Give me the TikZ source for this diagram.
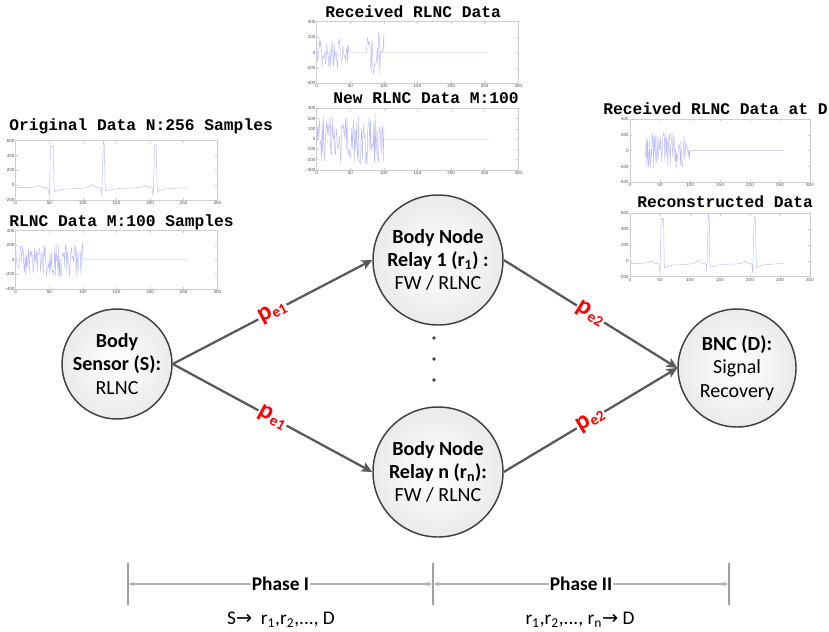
\documentclass[tikz,border=0pt]{standalone}
\usepackage{fontspec}
\setmainfont{Carlito}
\newfontfamily\monobold{Liberation Mono}
\newfontfamily\tickfont{Liberation Sans}
\newfontfamily\symfont{DejaVu Sans}
\usetikzlibrary{arrows.meta}

\definecolor{nodeborder}{HTML}{404040}
\definecolor{arrowgray}{HTML}{595959}
\definecolor{axisgray}{HTML}{CFCFCF}
\definecolor{datablue}{HTML}{BCBCF8}
\definecolor{ticktext}{HTML}{505050}
\definecolor{phasegray}{HTML}{A0A0A0}

\tikzset{
  bnode/.style={circle, draw=nodeborder, line width=1.1pt, inner color=white, outer color=black!8,
    align=center, inner sep=0pt, font=\fontsize{15}{17.5}\selectfont},
  flow/.style={draw=arrowgray, line width=1.7pt, -{Stealth[length=8pt,width=7.5pt,inset=2pt]}},
  plabel/.style={midway, sloped, fill=white, inner sep=1pt, text=red,
    font=\bfseries\fontsize{19}{19}\selectfont},
  ptitle/.style={anchor=base west, inner sep=0pt, font=\monobold\bfseries\fontsize{12.2}{12.2}\selectfont},
  axisline/.style={draw=axisgray, line width=0.4pt},
  ticklbl/.style={inner sep=0.3pt, text=ticktext, font=\tickfont\fontsize{3.4}{3.4}\selectfont},
  dataline/.style={draw=datablue, line width=0.35pt, line join=round},
  plotarea/.code n args={6}{%
    \pgfmathsetmacro{\sxx}{((#2)-(#1))/300}%
    \pgfmathsetmacro{\syy}{-((#4)-(#3))/((#6)-(#5))}%
    \tikzset{shift={(#1,#4)}, xscale=\sxx, yscale=\syy, shift={(0,{-(#5)})}}%
  },
  phasebar/.style={draw=phasegray, line width=1.3pt},
  phaseline/.style={draw=phasegray!80, line width=1.1pt, {Stealth[length=4pt,width=3.5pt]}-{Stealth[length=4pt,width=3.5pt]}},
  phasetext/.style={fill=white, inner sep=0.5pt, font=\bfseries\fontsize{14.5}{14.5}\selectfont},
  phasesub/.style={inner sep=0pt, font=\fontsize{14.5}{14.5}\selectfont},
}

% ECG-like trace (data coordinates)
\newcommand{\ecgdraw}{%
  \draw[dataline] (0,-30) -- (5,-35) -- (10,-30) -- (15,-35) -- (20,-30) -- (25,-28) -- (30,-25)
    -- (34,0) -- (37,-15) -- (40,-28) -- (45,-32) -- (48,-40) -- (50,-150) -- (52,540) -- (54,520)
    -- (56,535) -- (57,-20) -- (58,-90) -- (62,-75) -- (66,-65) -- (70,-55) -- (80,-50) -- (90,-45)
    -- (100,-40) -- (105,-35) -- (110,-20) -- (113,10) -- (116,-10) -- (120,-30) -- (125,-35)
    -- (127,-45) -- (128,-130) -- (130.5,600) -- (132,540) -- (133,-20) -- (134,-80) -- (140,-65)
    -- (145,-55) -- (155,-45) -- (165,-40) -- (175,-40) -- (182,-35) -- (188,-25) -- (191,0)
    -- (194,-20) -- (200,-35) -- (203,-40) -- (204.5,-150) -- (207,560) -- (209,540) -- (210.5,-20)
    -- (211.5,-90) -- (215,-70) -- (220,-55) -- (230,-45) -- (240,-40) -- (250,-35) -- (256,-35);%
}

% axes of a MATLAB-style plot: #1 L, #2 R, #3 T, #4 B, #5 ymin, #6 ymax, #7 y tick list
\newcommand{\plotaxes}[7]{%
  \draw[axisline] (#1,#3) rectangle (#2,#4);
  \foreach \xv in {0,50,...,300}{%
    \pgfmathsetmacro{\xp}{#1+\xv/300*(#2-#1)}%
    \draw[axisline] (\xp,#4) -- ++(0,-2.2) (\xp,#3) -- ++(0,2.2);
    \node[ticklbl,anchor=north] at (\xp,#4+0.6) {\xv};
  }
  \foreach \yv in {#7}{%
    \pgfmathsetmacro{\yp}{#4-(\yv-(#5))/((#6)-(#5))*(#4-#3)}%
    \draw[axisline] (#1,\yp) -- ++(2.2,0) (#2,\yp) -- ++(-2.2,0);
    \node[ticklbl,anchor=east] at (#1-0.6,\yp) {\yv};
  }
}

\begin{document}
\begin{tikzpicture}[x=0.75pt, y=-0.75pt]
\useasboundingbox (0,0) rectangle (829,632);

% ---------- plots ----------
% 1 Original data
\node[ptitle] (t1) at (9,130) {Original Data N:256 Samples};
\plotaxes{15.7}{217.3}{140.7}{200}{-200}{600}{600,400,200,0,-200}
\begin{scope}[plotarea={15.7}{217.3}{140.7}{200}{-200}{600}]
  \ecgdraw
\end{scope}

% 2 RLNC data
\node[ptitle] (t2) at (9,226) {RLNC Data M:100 Samples};
\plotaxes{15.7}{217.3}{230.7}{289}{-400}{400}{400,200,0,-200,-400}
\pgfmathsetseed{11}
\begin{scope}[plotarea={15.7}{217.3}{230.7}{289}{-400}{400}]
  \draw[dataline] (0,210) \foreach \i in {1,...,99}{ -- (\i,{240*rand}) } -- (100,230) -- (100,0) -- (256,0);
\end{scope}

% 3 Received RLNC data
\node[ptitle] (t3) at (325,17) {Received RLNC Data};
\plotaxes{316.7}{518.3}{21.7}{83.3}{-400}{400}{400,200,0,-200,-400}
\pgfmathsetseed{23}
\begin{scope}[plotarea={316.7}{518.3}{21.7}{83.3}{-400}{400}]
  \draw[dataline] (0,200) \foreach \i in {1,...,47}{ -- (\i,{210*rand}) } -- (48,0) -- (74,0)
    \foreach \i in {75,...,99}{ -- (\i,{290*rand}) } -- (100,240) -- (100,0) -- (256,0);
\end{scope}

% 4 New RLNC data
\node[ptitle] (t4) at (333,103) {New RLNC Data M:100};
\plotaxes{316.7}{518.3}{108.3}{170}{-300}{300}{300,200,100,0,-100,-200,-300}
\pgfmathsetseed{37}
\begin{scope}[plotarea={316.7}{518.3}{108.3}{170}{-300}{300}]
  \draw[dataline] (0,-60) \foreach \i in {1,...,99}{ -- (\i,{250*rand}) } -- (100,100) -- (100,0) -- (256,0);
\end{scope}

% 5 Received at D
\node[ptitle] (t5) at (603,114) {Received RLNC Data at D};
\plotaxes{630}{810}{119}{182.3}{-400}{400}{400,200,0,-200,-400}
\pgfmathsetseed{53}
\begin{scope}[plotarea={630}{810}{119}{182.3}{-400}{400}]
  \draw[dataline] (25,-90) \foreach \i in {26,...,99}{ -- (\i,{230*rand}) } -- (100,0) -- (256,0);
\end{scope}

% 6 Reconstructed
\node[ptitle] (t6) at (637,207) {Reconstructed Data};
\plotaxes{630}{810}{213.3}{276.7}{-200}{600}{600,400,200,0,-200}
\begin{scope}[plotarea={630}{810}{213.3}{276.7}{-200}{600}]
  \ecgdraw
\end{scope}

% ---------- network ----------
\node[bnode, minimum size=82.5pt] (S) at (117,364) {\textbf{Body}\\\textbf{Sensor (S):}\\RLNC};
\node[bnode, minimum size=97.5pt] (R1) at (438,260) {\textbf{Body Node}\\\textbf{Relay 1 (r\textsubscript{1}) :}\\FW / RLNC};
\node[bnode, minimum size=97.5pt] (Rn) at (438,472) {\textbf{Body Node}\\\textbf{Relay n (r\textsubscript{n}):}\\FW / RLNC};
\node[bnode, minimum size=88.5pt] (D) at (737,368) {\textbf{BNC (D):}\\Signal\\Recovery};

\draw[flow] (S.east) -- node[plabel]{p\raisebox{-2pt}{\fontsize{11.5}{11.5}\selectfont e1}} (R1.west);
\draw[flow] (S.east) -- node[plabel]{p\raisebox{-2pt}{\fontsize{11.5}{11.5}\selectfont e1}} (Rn.west);
\draw[flow] (R1.east) -- node[plabel]{p\raisebox{-2pt}{\fontsize{11.5}{11.5}\selectfont e2}} (D.west);
\draw[flow] (Rn.east) -- node[plabel]{p\raisebox{-2pt}{\fontsize{11.5}{11.5}\selectfont e2}} (D.west);

\fill[nodeborder] (434,338) circle[radius=1.4pt];
\fill[nodeborder] (434,359) circle[radius=1.4pt];
\fill[nodeborder] (434,380) circle[radius=1.4pt];

% ---------- phases ----------
\draw[phasebar] (128,563) -- (128,605);
\draw[phasebar] (433,563) -- (433,605);
\draw[phasebar] (729,563) -- (729,605);
\coordinate (pa) at (129,584);
\coordinate (pb) at (432,584);
\coordinate (pb2) at (434,584);
\coordinate (pc) at (728,584);
\draw[phaseline] (pa) -- node[phasetext] (ph1) {Phase I} (pb);
\draw[phaseline] (pb2) -- node[phasetext] (ph2) {Phase II} (pc);
\node[phasesub] (s1) at (281,620) {S{\symfont →}\ \ r\textsubscript{1},r\textsubscript{2},..., D};
\node[phasesub] (s2) at (580,620) {r\textsubscript{1},r\textsubscript{2},..., r\textsubscript{n}{\symfont →} D};
\end{tikzpicture}
\end{document}
